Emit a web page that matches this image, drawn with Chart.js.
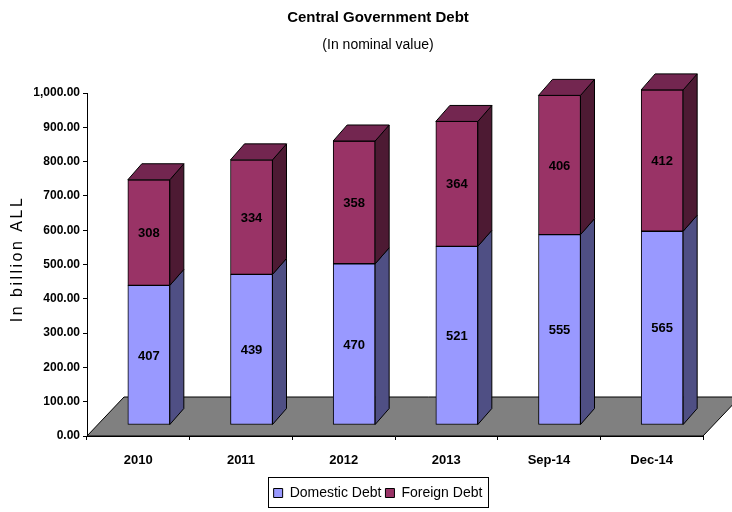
<!DOCTYPE html>
<html><head><meta charset="utf-8">
<script src="https://cdn.jsdelivr.net/npm/chart.js@4.4.0/dist/chart.umd.min.js"></script>
<style>html,body{margin:0;padding:0;background:#fff;}#wrap{width:732px;height:512px;}</style>
</head><body><div id="wrap"><canvas id="c" width="732" height="512"></canvas></div>
<script>
const categories = ['2010', '2011', '2012', '2013', 'Sep-14', 'Dec-14'];
const domesticDebt = [407, 439, 470, 521, 555, 565];
const foreignDebt = [308, 334, 358, 364, 406, 412];
const seriesNames = ['Domestic Debt', 'Foreign Debt'];
const yTickValues = [0, 100, 200, 300, 400, 500, 600, 700, 800, 900, 1000];

const SANS = "'Liberation Sans', Arial, sans-serif";
Chart.defaults.font.family = SANS;
Chart.defaults.color = '#000';

const FLOOR = {dx: 37, dy: -39};
const FRONT = {dx: 10.5, dy: -11};
const DEPTH = {dx: 14, dy: -16};

function poly(ctx, pts, fill) {
  ctx.beginPath();
  ctx.moveTo(pts[0][0], pts[0][1]);
  for (let i = 1; i < pts.length; i++) ctx.lineTo(pts[i][0], pts[i][1]);
  ctx.closePath();
  ctx.fillStyle = fill; ctx.fill();
  ctx.strokeStyle = '#000'; ctx.lineWidth = 1; ctx.stroke();
}

const threeD = {
  id: 'threeD',
  beforeDatasetsDraw(chart) {
    const {ctx, chartArea: a} = chart;
    ctx.save();
    poly(ctx, [[a.left, a.bottom], [a.right, a.bottom], [a.right + FLOOR.dx, a.bottom + FLOOR.dy], [a.left + FLOOR.dx, a.bottom + FLOOR.dy]], '#808080');
    ctx.translate(FRONT.dx, FRONT.dy);
  },
  afterDatasetsDraw(chart) {
    const ctx = chart.ctx;
    const last = chart.data.datasets.length - 1;
    chart.data.datasets.forEach((ds, di) => {
      chart.getDatasetMeta(di).data.forEach((el) => {
        const left = el.x - el.width / 2, right = el.x + el.width / 2;
        const top = Math.min(el.y, el.base), bot = Math.max(el.y, el.base);
        poly(ctx, [[right, bot], [right + DEPTH.dx, bot + DEPTH.dy], [right + DEPTH.dx, top + DEPTH.dy], [right, top]], ds.sideColor);
        if (di === last) {
          poly(ctx, [[left, top], [right, top], [right + DEPTH.dx, top + DEPTH.dy], [left + DEPTH.dx, top + DEPTH.dy]], ds.topColor);
        }
      });
    });
    ctx.fillStyle = '#000';
    ctx.font = 'bold 13px ' + SANS;
    ctx.textAlign = 'center';
    ctx.textBaseline = 'middle';
    chart.data.datasets.forEach((ds, di) => {
      chart.getDatasetMeta(di).data.forEach((el, j) => {
        ctx.fillText(String(ds.data[j]), el.x, (el.y + el.base) / 2 + 1);
      });
    });
    ctx.restore();
  },
  afterDraw(chart) {
    const ctx = chart.ctx;
    ctx.save();
    ctx.translate(18, 259);
    ctx.rotate(-Math.PI / 2);
    ctx.font = '16px ' + SANS;
    ctx.letterSpacing = '2.5px';
    ctx.fillStyle = '#000';
    ctx.textAlign = 'center';
    ctx.textBaseline = 'middle';
    ctx.fillText('In billion ALL', 0, 0);
    ctx.restore();
    const lg = chart.legend;
    if (lg && lg.legendHitBoxes && lg.legendHitBoxes.length) {
      const hb = lg.legendHitBoxes;
      const x0 = hb[0].left - 6;
      const x1 = hb[hb.length - 1].left + hb[hb.length - 1].width + 5;
      const y0 = hb[0].top - 9, y1 = hb[0].top + hb[0].height + 7;
      ctx.save();
      ctx.strokeStyle = '#000'; ctx.lineWidth = 1;
      ctx.strokeRect(Math.round(x0) + 0.5, Math.round(y0) + 0.5, Math.round(x1 - x0), Math.round(y1 - y0));
      ctx.restore();
    }
  }
};

new Chart(document.getElementById('c'), {
  type: 'bar',
  data: {
    labels: categories,
    datasets: [
      {label: seriesNames[0], data: domesticDebt, backgroundColor: '#9999FF', sideColor: '#4F4F84', topColor: '#7373BF',
       borderColor: '#000', borderWidth: 1, borderSkipped: false, barThickness: 42, clip: false},
      {label: seriesNames[1], data: foreignDebt, backgroundColor: '#993366', sideColor: '#4D1A33', topColor: '#732650',
       borderColor: '#000', borderWidth: 1, borderSkipped: false, barThickness: 42, clip: false}
    ]
  },
  options: {
    responsive: false,
    animation: false,
    layout: {padding: {left: 53, right: 29, top: 0, bottom: 2}},
    plugins: {
      title: {display: true, text: 'Central Government Debt', color: '#000',
              font: {family: SANS, size: 15, weight: 'bold'}, padding: {top: 9, bottom: 0}},
      subtitle: {display: true, text: '(In nominal value)', color: '#000',
                 font: {family: SANS, size: 14, weight: 'normal'}, padding: {top: 9.6, bottom: 39.6}},
      legend: {position: 'bottom', labels: {boxWidth: 9, boxHeight: 9, padding: 4, color: '#000',
               font: {family: SANS, size: 14}}},
      tooltip: {enabled: false}
    },
    scales: {
      x: {
        stacked: true,
        grid: {drawOnChartArea: false, drawTicks: true, tickLength: 4, color: '#000', offset: true},
        border: {display: true, color: '#000'},
        ticks: {font: {family: SANS, size: 13, weight: 'bold'}, padding: 13, maxRotation: 0, color: '#000'},
        afterFit(s) { s.height = 46; }
      },
      y: {
        stacked: true, min: 0, max: 1000,
        afterBuildTicks(s) { s.ticks = yTickValues.map(v => ({value: v})); },
        ticks: {font: {family: SANS, size: 12, weight: 'bold'}, padding: 3, color: '#000',
                callback: v => v.toLocaleString('en-US', {minimumFractionDigits: 2, maximumFractionDigits: 2})},
        grid: {drawOnChartArea: false, drawTicks: true, tickLength: 4, color: '#000'},
        border: {display: true, color: '#000'},
        afterFit(s) { s.width = 34; s._computeLabelArea = () => null; }
      }
    }
  },
  plugins: [threeD]
});
</script></body></html>
